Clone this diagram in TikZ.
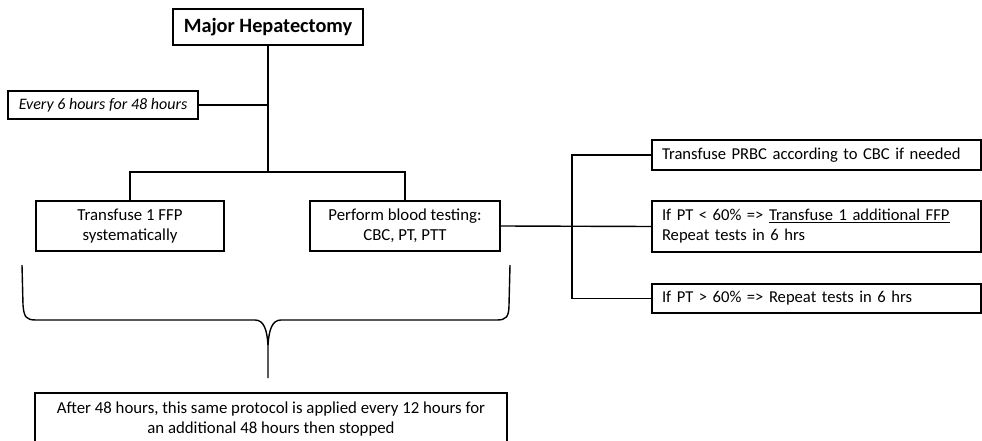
\documentclass[tikz,border=0pt]{standalone}
\usepackage{fontspec}
\setmainfont{Carlito}
\begin{document}
\begin{tikzpicture}[x=1pt,y=-1pt,
  line width=1.4pt,
  box/.style={draw, line width=1.4pt, inner sep=0pt, font=\fontsize{16.8}{20}\selectfont, align=center},
  rbox/.style={draw, line width=1.4pt, inner xsep=10pt, inner ysep=0pt, text width=309pt, minimum width=329pt, align=left, font=\fontsize{16.6}{20}\selectfont},
  link/.style={draw, line width=1.4pt}]
\useasboundingbox (0,0) rectangle (982,441);
\node[box, minimum width=190pt, minimum height=36pt, font=\fontsize{20.3}{22}\selectfont\bfseries] (mh) at (268,27) {Major Hepatectomy};
\node[box, minimum width=190pt, minimum height=28pt, font=\fontsize{16}{18}\selectfont\itshape] (ev) at (103,105) {Every 6 hours for 48 hours};
\node[box, minimum width=188pt, minimum height=50pt] (ffp) at (130,226) {Transfuse 1 FFP\\systematically};
\node[box, minimum width=190pt, minimum height=50pt] (pbt) at (405,226) {Perform blood testing:\\CBC, PT, PTT};
\node[rbox, minimum height=30pt] (r1) at (816.5,155) {Transfuse PRBC according to CBC if needed};
\node[rbox, minimum height=51pt] (r2) at (816.5,226.5) {If PT < 60\% => \underline{Transfuse 1 additional FFP}\\Repeat tests in 6 hrs};
\node[rbox, minimum height=29pt] (r3) at (816.5,298.5) {If PT > 60\% => Repeat tests in 6 hrs};
\node[box, minimum width=472pt, minimum height=52pt] (af) at (271,419) {After 48 hours, this same protocol is applied every 12 hours for\\an additional 48 hours then stopped};
\coordinate (j1) at (268,172);
\coordinate (jr) at (572,226);
\draw[link] (mh.south) -- (j1);
\draw[link] (ev.east) -- (ev.east -| mh.south);
\draw[link] (ffp.north) |- (j1) -| (pbt.north);
\draw[link] (pbt.east) -- (r2.west);
\draw[link] (r1.west) -| (jr) |- (r3.west);
% brace
\draw[line width=1.4pt] (22,265) -- (23,305) .. controls (24,317) and (26,320) .. (36,320)
  -- (255,320) .. controls (264,320) and (267,330) .. (268,345) -- (268,378);
\draw[line width=1.4pt] (268,345) .. controls (269,330) and (272,320) .. (281,320)
  -- (497,320) .. controls (506,320) and (509,317) .. (509,305) -- (510,265);
\end{tikzpicture}
\end{document}
